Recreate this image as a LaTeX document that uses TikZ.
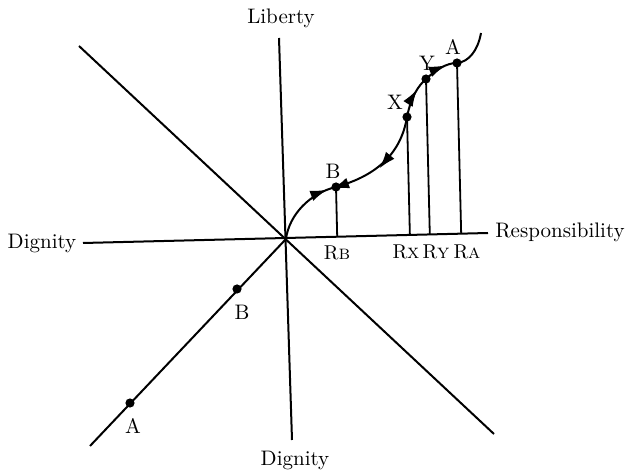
\documentclass[tikz,border=0pt]{standalone}
\usetikzlibrary{arrows.meta,decorations.markings,calc}
\begin{document}
\begin{tikzpicture}[
  x=0.5pt,
  y=-0.5pt,
  axis/.style={draw=black,line width=1pt},
  curve/.style={draw=black,line width=1pt},
  drop/.style={draw=black,line width=0.9pt},
  lbl/.style={font=\fontsize{10.5}{12}\selectfont,inner sep=0pt},
  rlbl/.style={font=\fontsize{10}{12}\selectfont,inner sep=0pt},
  fwdat/.style={postaction={decorate,decoration={markings,
      mark=at position #1 with {\arrow{Latex[length=8.5pt,width=5.5pt]}}}}},
  backat/.style={postaction={decorate,decoration={markings,
      mark=at position #1 with {\arrow{Latex[reversed,length=8.5pt,width=5.5pt]}}}}}
]
  \useasboundingbox (0,0) rectangle (632,475);

  % axes
  \coordinate (O) at (286,239);
  \coordinate (libT) at (279,38);
  \coordinate (digB) at (292,440);
  \coordinate (digL) at (83,243);
  \coordinate (resR) at (488,233);
  \coordinate (nw) at (79,46);
  \coordinate (se) at (494,434);
  \coordinate (sw) at (90,446);
  \draw[axis] (libT)--(digB);
  \draw[axis] (digL)--(resR);
  \draw[axis] (nw)--(se);
  \draw[axis] (sw)--(O);

  \node[lbl] (liberty) at (281,18) {Liberty};
  \node[lbl] (dignityB) at (295,460) {Dignity};
  \node[lbl] (dignityL) at (42,243) {Dignity};
  \node[lbl] (resp) at (560,232) {Responsibility};

  % points on the curve
  \coordinate (cB) at (336,187);
  \coordinate (cX) at (407,117);
  \coordinate (cY) at (426,79);
  \coordinate (cA) at (457,63);
  \coordinate (cEnd) at (481,33);

  \draw[curve,fwdat=0.88] (O) .. controls (289,215) and (310,193) .. (cB);
  \draw[curve,backat=0.12,backat=0.6] (cB) .. controls (368,178) and (400,160) .. (cX);
  \draw[curve,fwdat=0.68] (cX) .. controls (411,97) and (418,86) .. (cY);
  \draw[curve,fwdat=0.68] (cY) .. controls (436,70) and (446,63) .. (cA);
  \draw[curve] (cA) .. controls (469,62) and (478,50) .. (cEnd);

  % drops to the responsibility axis
  \foreach \p in {cB,cX,cY,cA} {
    \draw[drop] (\p) -- ($(digL)!(\p)!(resR)$);
    \fill (\p) circle (2.3pt);
  }

  \node[lbl] (labB) at (333,171) {B};
  \node[lbl] (labX) at (395,102) {X};
  \node[lbl] (labY) at (427,63) {Y};
  \node[lbl] (labA) at (453,47) {A};

  \node[rlbl] (rB) at (337,253) {R\textsc{b}};
  \node[rlbl] (rX) at (406,252) {R\textsc{x}};
  \node[rlbl] (rY) at (436,252) {R\textsc{y}};
  \node[rlbl] (rA) at (467,252) {R\textsc{a}};

  % points on the dignity diagonal
  \coordinate (dB) at (237,289);
  \coordinate (dA) at (130,403);
  \fill (dB) circle (2.3pt);
  \fill (dA) circle (2.3pt);
  \node[lbl] (labdB) at (242,312) {B};
  \node[lbl] (labdA) at (133,426) {A};
\end{tikzpicture}
\end{document}
